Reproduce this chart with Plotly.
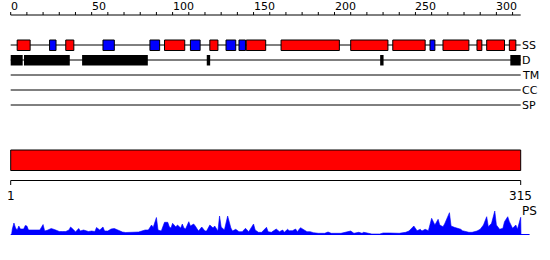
import plotly.graph_objects as go

# ---------------- data ----------------
seq_length = 315
axis_ticks = list(range(0, 311, 10))
axis_labels = [0, 50, 100, 150, 200, 250, 300]

track_names = ["SS", "D", "TM", "CC", "SP"]

helix_start = [4, 34, 95, 123, 145.5, 167, 210, 236, 267, 288, 294, 308]
helix_end = [12, 39, 107.5, 128, 157.5, 203, 233, 256, 283, 291, 305, 312]
strand_start = [24, 57, 86, 111, 133, 141, 259]
strand_end = [28, 64, 92, 117, 139, 145, 262]

disorder_start = [0, 8.2, 44.1, 121.1, 228.2, 308.6]
disorder_end = [7.4, 36.5, 84.7, 123.2, 230.3, 315]

domain_start = [0]
domain_end = [315]
range_labels = ["1", "315"]

ps_pos = [0.5, 1, 2, 3, 4, 5, 6, 8, 9, 10, 11, 13, 14, 15, 16, 18, 20, 21, 23, 25,
          27, 29, 30, 32, 34, 36, 37, 39, 40, 42, 43, 45, 47, 48, 50, 52, 53, 55, 57, 58,
          60, 62, 64, 66, 68, 69, 71, 74, 76, 79, 81, 83, 85, 86, 87, 88, 90, 91, 93, 95,
          97, 98, 99, 100, 102, 103, 105, 106, 107, 108, 110, 111, 113, 114, 116, 118, 120, 121, 123, 125,
          126, 128, 129, 130, 132, 134, 136, 137, 139, 141, 143, 145, 147, 150, 151, 153, 155, 158, 159, 161,
          164, 166, 168, 169, 171, 172, 174, 176, 177, 179, 181, 183, 185, 187, 190, 194, 196, 198, 204, 210,
          212, 215, 217, 218, 221, 223, 228, 230, 234, 240, 244, 246, 249, 251, 253, 254, 256, 258, 260, 262,
          264, 265, 267, 268, 271, 272, 274, 276, 278, 279, 281, 283, 285, 288, 290, 292, 294, 295, 297, 299,
          300, 302, 304, 305, 307, 308, 310, 312, 313, 315, 315.2]
ps_val = [0, 6, 12, 7, 5, 9, 6, 6, 9.5, 9, 5, 5, 4.5, 4.5, 4.5, 5, 10.5, 4, 5, 6.5,
          5.5, 4, 3.5, 3.5, 3.5, 5, 8, 5, 3, 6.5, 4, 5, 4.5, 3.5, 4, 3.5, 7.5, 5, 8, 4,
          4, 6, 6.5, 5, 3, 3, 2.5, 2.5, 2.5, 3, 4, 5, 5, 7, 10, 7.5, 17.5, 5, 4, 12.7,
          12.7, 8, 7, 11.7, 8, 10, 7, 11, 7, 6, 13.3, 9, 11, 9, 4, 8, 4, 4, 10, 7,
          9, 4, 19, 8, 5, 19, 7, 4, 5.7, 3.3, 3.3, 6.7, 3.3, 11, 5, 2.7, 2.7, 7.7, 3.3, 2.7,
          6, 3.3, 5, 2.7, 5.7, 4.3, 4.3, 6, 3.3, 7.3, 5.7, 3.3, 3.3, 2.3, 1.7, 1.7, 3, 1.7, 1.7, 4,
          1.7, 2.7, 1.7, 2.7, 1.7, 1, 1, 2, 2, 1.7, 2.7, 4, 9, 4.3, 5.7, 4, 5.7, 4.3, 16.7, 10,
          15.7, 10, 8.3, 11, 22.3, 9, 7.7, 6.7, 5.7, 4.3, 3.3, 2.7, 2.7, 4, 5.7, 10, 18.3, 8.3, 11.7, 24,
          10, 5.7, 6.7, 13.3, 18.3, 13.3, 6.7, 10, 5.7, 17.7, 0]

# ---------------- layout constants (pixels) ----------------
W, H = 550, 260
X0_PX, PX_PER = 10.7, 1.619
xr = [-X0_PX / PX_PER, (W - X0_PX) / PX_PER]

AXIS_Y = 15
SS_Y, D_Y = 45, 60
track_y = [45, 60, 75, 90, 105]
BAR_TOP, BAR_BOT = 150, 170.5
RULER_Y = 180.5
PS_BASE, PS_TOP = 235, 210

FONT = dict(family="DejaVu Sans", size=11, color="black")
RED, BLUE = "#ff0000", "#0000ff"

shapes = []
annotations = []

# top ruler
shapes.append(dict(type="line", xref="x", yref="y", x0=0, x1=seq_length,
                   y0=AXIS_Y, y1=AXIS_Y, line=dict(color="black", width=1)))
for t in axis_ticks:
    shapes.append(dict(type="line", xref="x", yref="y", x0=t, x1=t,
                       y0=AXIS_Y - 3, y1=AXIS_Y, line=dict(color="black", width=1)))
for t in axis_labels:
    annotations.append(dict(x=t, y=AXIS_Y - 8.5, xref="x", yref="y", text=str(t),
                            showarrow=False, xanchor="left", yanchor="middle",
                            xshift=-2, font=FONT))

# track lines and names
for name, ty in zip(track_names, track_y):
    shapes.append(dict(type="line", xref="x", yref="y", x0=0, x1=seq_length,
                       y0=ty, y1=ty, line=dict(color="black", width=1)))
    annotations.append(dict(x=seq_length, y=ty, xref="x", yref="y", text=name,
                            showarrow=False, xanchor="left", yanchor="middle",
                            xshift=-1, font=FONT))

# secondary structure
for s, e in zip(helix_start, helix_end):
    shapes.append(dict(type="rect", xref="x", yref="y", x0=s, x1=e,
                       y0=SS_Y - 5, y1=SS_Y + 5.5, fillcolor=RED,
                       line=dict(color="black", width=1)))
for s, e in zip(strand_start, strand_end):
    shapes.append(dict(type="rect", xref="x", yref="y", x0=s, x1=e,
                       y0=SS_Y - 5, y1=SS_Y + 5.5, fillcolor=BLUE,
                       line=dict(color="black", width=1)))

# disorder
for s, e in zip(disorder_start, disorder_end):
    shapes.append(dict(type="rect", xref="x", yref="y", x0=s, x1=e,
                       y0=D_Y - 5, y1=D_Y + 5.5, fillcolor="black",
                       line=dict(color="black", width=0)))

# domain bar
for s, e in zip(domain_start, domain_end):
    shapes.append(dict(type="rect", xref="x", yref="y", x0=s, x1=e,
                       y0=BAR_TOP, y1=BAR_BOT, fillcolor=RED,
                       line=dict(color="black", width=1)))

# bottom ruler
shapes.append(dict(type="line", xref="x", yref="y", x0=0, x1=seq_length,
                   y0=RULER_Y, y1=RULER_Y, line=dict(color="black", width=1)))
for xv, lab in zip([0, seq_length], range_labels):
    shapes.append(dict(type="line", xref="x", yref="y", x0=xv, x1=xv,
                       y0=RULER_Y, y1=RULER_Y + 4.5, line=dict(color="black", width=1)))
    annotations.append(dict(x=xv, y=RULER_Y + 15.5, xref="x", yref="y", text=lab,
                            showarrow=False, xanchor="center", yanchor="middle",
                            font=dict(family="DejaVu Sans", size=12, color="black")))
annotations.append(dict(x=seq_length, y=RULER_Y + 30.5, xref="x", yref="y", text="PS",
                        showarrow=False, xanchor="left", yanchor="middle", xshift=-1,
                        font=dict(family="DejaVu Sans", size=12, color="black")))

fig = go.Figure()
fig.add_trace(go.Scatter(x=ps_pos, y=ps_val, mode="lines", fill="tozeroy",
                         fillcolor=BLUE, line=dict(color=BLUE, width=0.6),
                         xaxis="x", yaxis="y2", hoverinfo="skip", showlegend=False))
# baseline of PS profile
shapes.append(dict(type="line", xref="x", yref="y", x0=0, x1=320.5,
                   y0=PS_BASE - 0.5, y1=PS_BASE - 0.5, line=dict(color=BLUE, width=1)))

fig.update_layout(
    width=W, height=H,
    margin=dict(l=0, r=0, t=0, b=0),
    paper_bgcolor="white", plot_bgcolor="white",
    xaxis=dict(range=xr, visible=False, fixedrange=True),
    yaxis=dict(range=[H, 0], visible=False, domain=[0, 1], fixedrange=True),
    yaxis2=dict(range=[0, PS_BASE - PS_TOP], visible=False, anchor="x",
                domain=[(H - PS_BASE) / H, (H - PS_TOP) / H], fixedrange=True),
    shapes=shapes, annotations=annotations, showlegend=False,
)

fig.write_html("out.html")
